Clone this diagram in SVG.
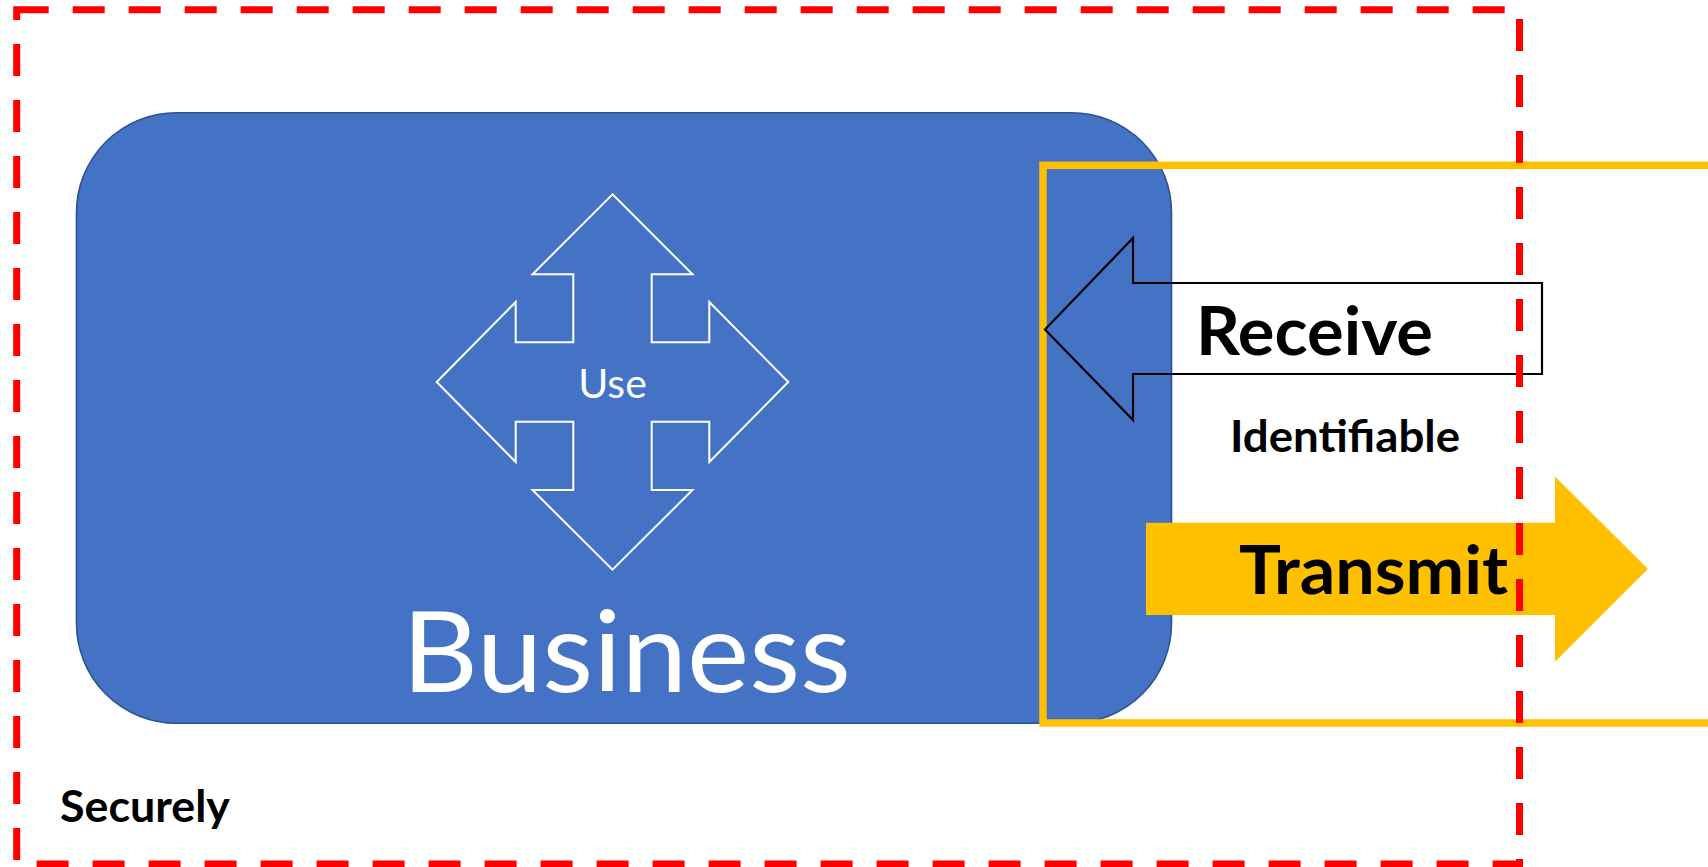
<svg xmlns="http://www.w3.org/2000/svg" width="1708" height="867" viewBox="0 0 1708 867">
  <style>
    .bold { font-family: Lato, "Liberation Sans", sans-serif; font-weight: 700; fill: #000000; }
    .reg { font-family: Lato, "Liberation Sans", sans-serif; font-weight: 400; fill: #FFFFFF; }
  </style>
  <rect width="1708" height="867" fill="#FFFFFF"/>
  <g id="business">
    <rect x="76.5" y="112.7" width="1095" height="610.6" rx="100" ry="100" fill="#4472C4" stroke="#2F528F" stroke-width="1.6"/>
    <polygon id="use-arrow" points="612.5,194.3 692.5,274.3 651.7,274.3 651.7,342.3 709.3,342.3 709.3,302 788.3,382 709.3,462 709.3,421.7 651.7,421.7 651.7,490 692.5,490 612.5,569.7 532.5,490 573.3,490 573.3,421.7 515.7,421.7 515.7,462 436.7,382 515.7,302 515.7,342.3 573.3,342.3 573.3,274.3 532.5,274.3" fill="none" stroke="#FFFFFF" stroke-width="2"/>
    <text class="reg" x="612.5" y="398" font-size="41" text-anchor="middle">Use</text>
    <text class="reg" x="626.5" y="691.7" font-size="113" text-anchor="middle" textLength="449" lengthAdjust="spacingAndGlyphs">Business</text>
  </g>
  <g id="channel">
    <rect x="1043" y="165.3" width="700" height="557.7" fill="none" stroke="#FFC000" stroke-width="7.5"/>
  </g>
  <g id="connectors">
    <g id="transmit">
      <polygon points="1146,522.7 1555,522.7 1555,476.5 1648,569 1555,661.7 1555,615 1146,615" fill="#FFC000"/>
      <text class="bold" x="1239" y="594" font-size="66" textLength="269" lengthAdjust="spacingAndGlyphs">Transmit</text>
    </g>
    <g id="receive">
      <polygon points="1045,329.5 1133,238 1133,283 1542,283 1542,374 1133,374 1133,420" fill="none" stroke="#000000" stroke-width="2.2" stroke-linejoin="miter"/>
      <text class="bold" x="1196" y="355" font-size="66" textLength="237" lengthAdjust="spacingAndGlyphs">Receive</text>
    </g>
  </g>
  <g id="identifiable">
    <text class="bold" x="1230" y="451.7" font-size="43" textLength="230" lengthAdjust="spacingAndGlyphs">Identifiable</text>
  </g>
  <g id="securely">
    <text class="bold" x="60" y="821.7" font-size="43" textLength="170" lengthAdjust="spacingAndGlyphs">Securely</text>
  </g>
  <g id="boundary">
    <rect x="16.7" y="9.7" width="1502.8" height="854.3" fill="none" stroke="#FF0000" stroke-width="7" stroke-dasharray="32 24"/>
  </g>
</svg>
